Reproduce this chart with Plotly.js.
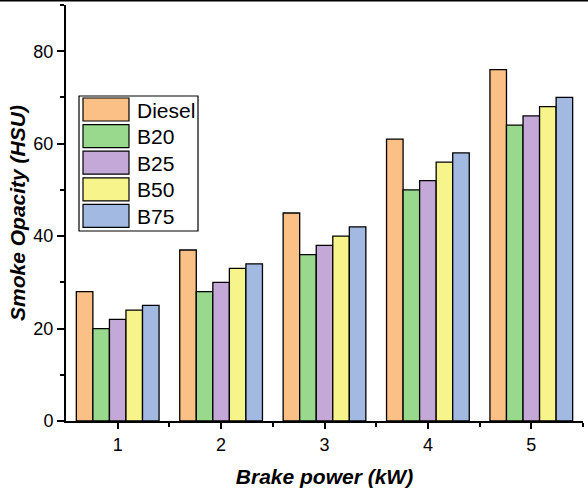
<!DOCTYPE html>
<html>
<head>
<meta charset="utf-8">
<script src="https://cdn.plot.ly/plotly-3.0.1.min.js"></script>
<style>
html,body{margin:0;padding:0;background:#fff;}
#chart{width:588px;height:494px;}
</style>
</head>
<body>
<div id="chart"></div>
<script>
// ---- data ----
const categories = [1, 2, 3, 4, 5];
const seriesNames = ["Diesel", "B20", "B25", "B50", "B75"];
const diesel = [28, 37, 45, 61, 76];
const b20 = [20, 28, 36, 50, 64];
const b25 = [22, 30, 38, 52, 66];
const b50 = [24, 33, 40, 56, 68];
const b75 = [25, 34, 42, 58, 70];
const seriesColors = ["#FBC085", "#99D98E", "#C3A8D8", "#F8F48C", "#A2B9E2"];
const yTickVals = [0, 20, 40, 60, 80];
const xTickVals = [1, 2, 3, 4, 5];

const seriesValues = [diesel, b20, b25, b50, b75];
const FONT = "Arial, 'Liberation Sans', sans-serif";

const traces = seriesValues.map((vals, i) => ({
  type: "bar",
  name: seriesNames[i],
  x: categories,
  y: vals,
  marker: { color: seriesColors[i], line: { color: "#000", width: 1.3 } },
  showlegend: false,
  hoverinfo: "x+y+name"
}));

// plot area in pixels: left 66, right 583, top 5, bottom 421
const L = 66, R = 583, T = 5, B = 421;
const W = R - L, H = B - T;
const px = x => (x - L) / W;
const py = y => (B - y) / H;

const shapes = [];
const annotations = [];

// thin top border line of the figure
shapes.push({ type: "line", xref: "paper", yref: "paper",
  x0: px(0), x1: px(588), y0: py(0.8), y1: py(0.8),
  line: { color: "#000", width: 1.5 } });

// custom legend with large swatches
shapes.push({ type: "rect", xref: "paper", yref: "paper",
  x0: px(79), x1: px(198), y0: py(96), y1: py(231),
  line: { color: "#000", width: 1.2 }, fillcolor: "#fff", layer: "above" });
const rowTop = 98, rowStep = 26.6, swH = 23;
seriesNames.forEach((name, i) => {
  const top = rowTop + i * rowStep;
  shapes.push({ type: "rect", xref: "paper", yref: "paper",
    x0: px(83), x1: px(129), y0: py(top), y1: py(top + swH),
    line: { color: "#000", width: 1.2 }, fillcolor: seriesColors[i], layer: "above" });
  annotations.push({ xref: "paper", yref: "paper",
    x: px(135), y: py(top + swH / 2 + 0.5), xanchor: "left", yanchor: "middle",
    text: name, showarrow: false,
    font: { family: FONT, size: 21, color: "#000" } });
});

const layout = {
  width: 588, height: 494,
  margin: { l: L, r: 588 - R, t: T, b: 494 - B, pad: 0 },
  paper_bgcolor: "#fff", plot_bgcolor: "#fff",
  font: { family: FONT, color: "#000" },
  barmode: "group", bargap: 0.2, bargroupgap: 0,
  xaxis: {
    range: [0.5, 5.5], tickvals: xTickVals, ticktext: xTickVals.map(String),
    showgrid: false, zeroline: false,
    showline: true, linecolor: "#000", linewidth: 2,
    ticks: "outside", ticklen: 6, tickwidth: 2, tickcolor: "#000",
    tickfont: { family: FONT, size: 18, color: "#000" },
    minor: { tickvals: [1.5, 2.5, 3.5, 4.5, 5.5], ticks: "outside", ticklen: 4, tickwidth: 2, tickcolor: "#000", showgrid: false },
    title: { text: "<b><i>Brake power (kW)</i></b>", font: { family: FONT, size: 21, color: "#000" }, standoff: 16 },
    fixedrange: true
  },
  yaxis: {
    range: [0, 90], tickvals: yTickVals, ticktext: yTickVals.map(String),
    showgrid: false, zeroline: false,
    showline: true, linecolor: "#000", linewidth: 2,
    ticks: "outside", ticklen: 7, tickwidth: 2, tickcolor: "#000",
    tickfont: { family: FONT, size: 18, color: "#000" },
    minor: { tickvals: [10, 30, 50, 70, 90], ticks: "outside", ticklen: 4, tickwidth: 2, tickcolor: "#000", showgrid: false },
    title: { text: "<b><i>Smoke Opacity (HSU)</i></b>", font: { family: FONT, size: 21, color: "#000" }, standoff: 2 },
    fixedrange: true
  },
  shapes: shapes,
  annotations: annotations,
  showlegend: false
};

Plotly.newPlot("chart", traces, layout, { displayModeBar: false, staticPlot: true });
</script>
</body>
</html>
